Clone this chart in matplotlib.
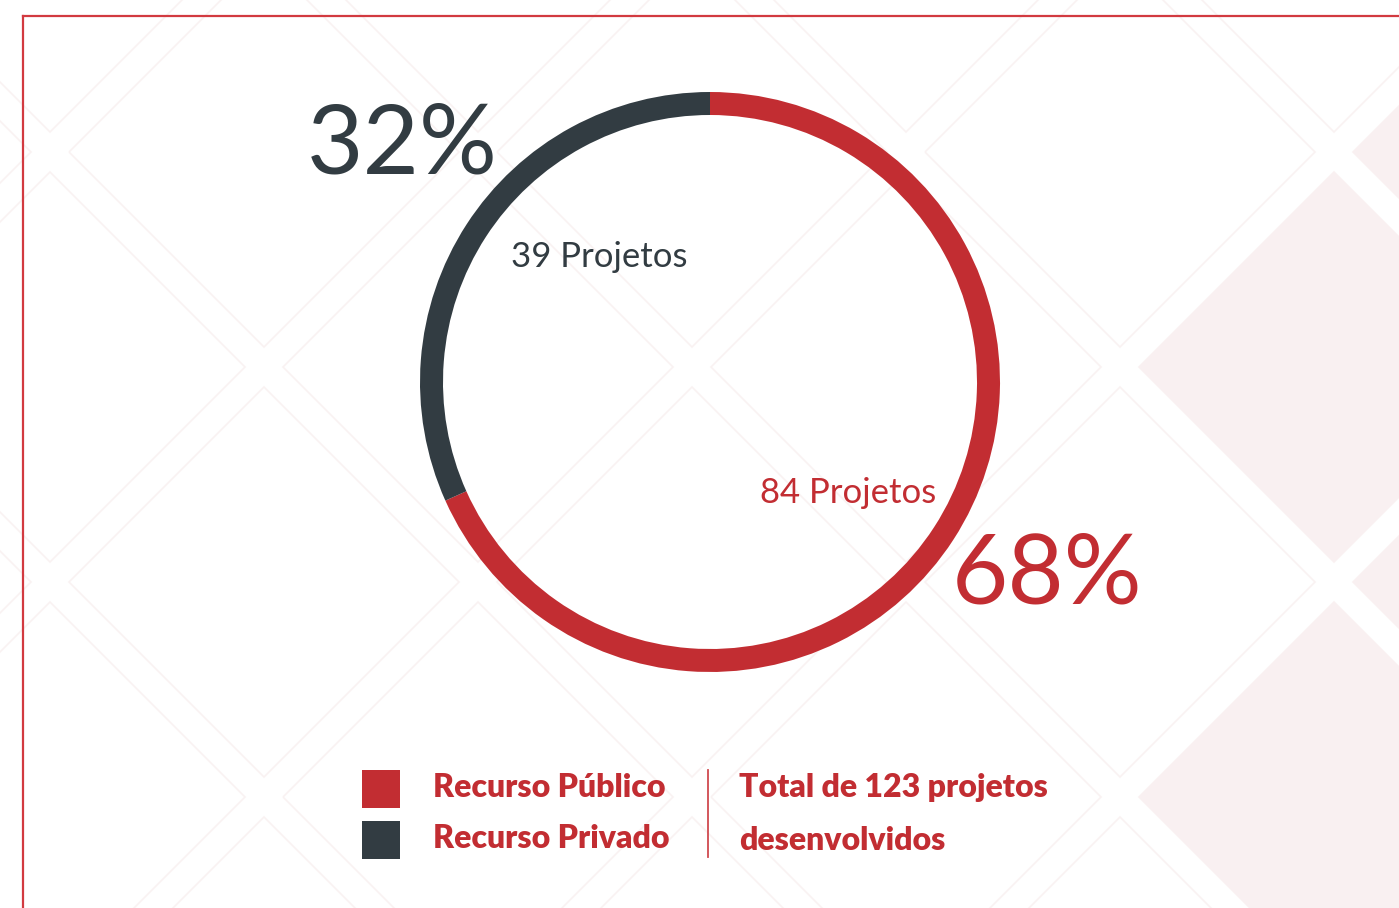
import matplotlib
matplotlib.use("Agg")
import matplotlib.pyplot as plt
from matplotlib.patches import Polygon, Rectangle
from matplotlib.lines import Line2D

# ---- data ----
categories = ["Recurso Público", "Recurso Privado"]
projects = [84, 39]
total_label = ["Total de 123 projetos", "desenvolvidos"]

RED = "#c22d32"
DARK = "#323c42"
colors = [RED, DARK]

W, H = 1399, 908
def fy(y):
    return H - y

fig = plt.figure(figsize=(W / 100, H / 100), dpi=100)
ax = fig.add_axes([0, 0, 1, 1])

# ---- background diamond lattice ----
step = 214
half = 195
cx0, cy0 = 1120, 582
pink_cells = {(1, -1), (1, 1), (2, -2), (2, 0)}
for k in range(-6, 3):
    for m in range(-3, 4):
        if (k + m) % 2:
            continue
        cx = cx0 + k * step
        cy = cy0 + m * 215
        pts = [(cx - half, fy(cy)), (cx, fy(cy - half)), (cx + half, fy(cy)), (cx, fy(cy + half))]
        filled = (k, m) in pink_cells
        ax.add_patch(Polygon(pts, closed=True,
                             facecolor="#f9f0f1" if filled else "none",
                             edgecolor="#f9f0f1" if filled else "#f9f2f2",
                             lw=1.2, zorder=0))

# ---- border ----
ax.add_line(Line2D([23, W], [fy(16), fy(16)], color="#d23a40", lw=1.6, zorder=1))
ax.add_line(Line2D([23, 23], [fy(16), 0], color="#d23a40", lw=1.6, zorder=1))

# ---- donut ----
ax.pie(projects, colors=colors, startangle=90, counterclock=False,
       center=(710, fy(382)), radius=290,
       wedgeprops=dict(width=23, edgecolor="none", linewidth=0))

ax.set_xlim(0, W)
ax.set_ylim(0, H)
ax.set_aspect("auto")
ax.axis("off")

total = sum(projects)
pcts = [round(100 * v / total) for v in projects]

light = dict(family="Lato", weight="normal")
bold = dict(family="Lato", weight="heavy")

ax.text(402, fy(173), f"{pcts[1]}%", color=DARK, fontsize=70, ha="center", va="baseline", **light)
ax.text(1047, fy(604), f"{pcts[0]}%", color=RED, fontsize=70, ha="center", va="baseline", **light)
ax.text(511, fy(267), f"{projects[1]} Projetos", color=DARK, fontsize=25, ha="left", va="baseline", **light)
ax.text(760, fy(503), f"{projects[0]} Projetos", color=RED, fontsize=25, ha="left", va="baseline", **light)

# ---- legend ----
sq_y = [770, 821]
for c, lab, y0, base in zip(colors, categories, sq_y, [797, 848]):
    ax.add_patch(Rectangle((362, fy(y0 + 38)), 38, 38, facecolor=c, edgecolor="none", zorder=3))
    ax.text(433, fy(base), lab, color=RED, fontsize=23, ha="left", va="baseline", **bold)

ax.add_line(Line2D([708, 708], [fy(770), fy(857)], color="#d04a4f", lw=1.3, zorder=3))
for lab, base in zip(total_label, [797, 850]):
    ax.text(739, fy(base), lab, color=RED, fontsize=23, ha="left", va="baseline", **bold)

fig.savefig("out.png", dpi=100, facecolor="white")
